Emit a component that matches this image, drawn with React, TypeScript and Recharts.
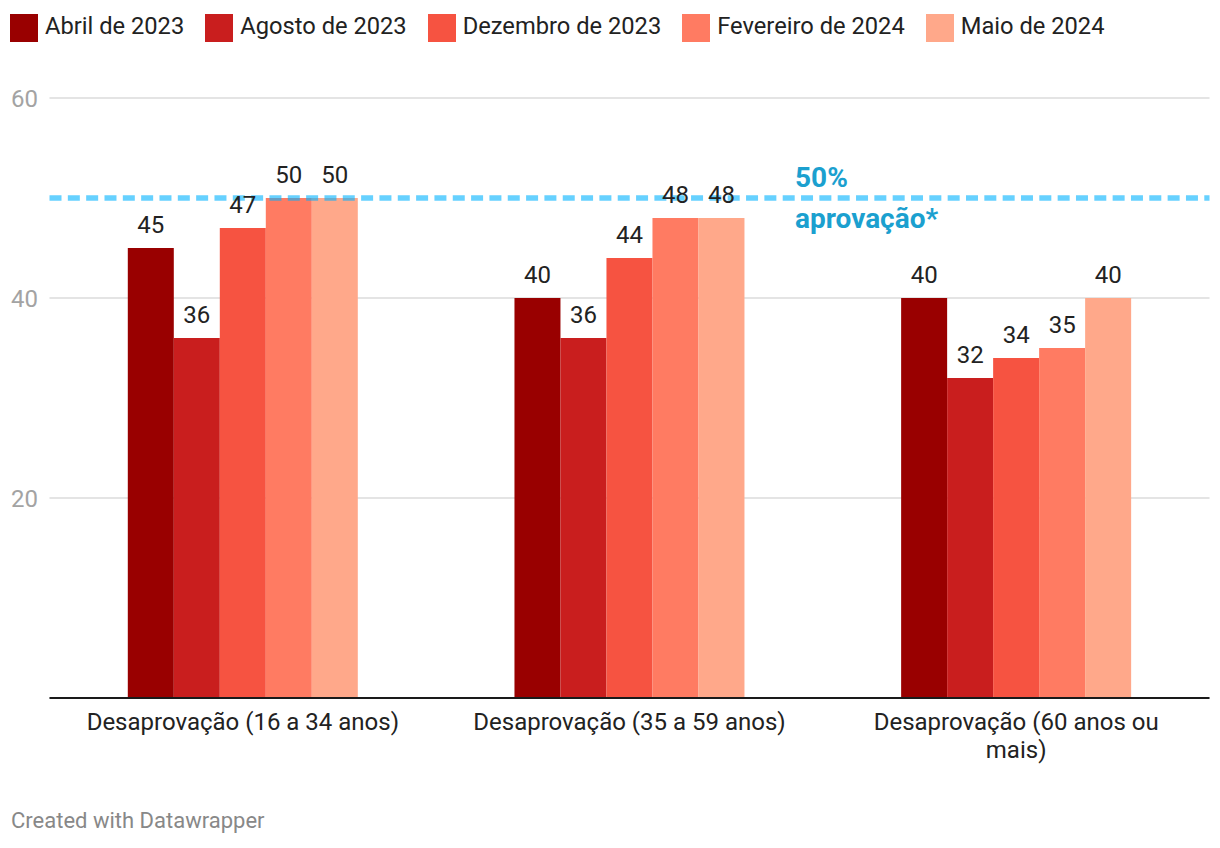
import React from 'react';
import { BarChart, Bar, XAxis, YAxis, CartesianGrid, ReferenceLine, LabelList, Label, Text } from 'recharts';

const categories = [
  'Desaprovação (16 a 34 anos)',
  'Desaprovação (35 a 59 anos)',
  'Desaprovação (60 anos ou mais)',
];
const abril2023 = [45, 40, 40];
const agosto2023 = [36, 36, 32];
const dezembro2023 = [47, 44, 34];
const fevereiro2024 = [50, 48, 35];
const maio2024 = [50, 48, 40];

const seriesNames = ['Abril de 2023', 'Agosto de 2023', 'Dezembro de 2023', 'Fevereiro de 2024', 'Maio de 2024'];
const seriesKeys = ['abril2023', 'agosto2023', 'dezembro2023', 'fevereiro2024', 'maio2024'];
const seriesColors = ['#990000', '#c91e1e', '#f65341', '#ff7b62', '#ffa88a'];
const seriesValues = [abril2023, agosto2023, dezembro2023, fevereiro2024, maio2024];

const yTicks = [20, 40, 60];
const referenceValue = 50;
const referenceLabel = ['50%', 'aprovação*'];
const footerText = 'Created with Datawrapper';

const data = categories.map((category, i) => {
  const row: Record<string, any> = { category };
  seriesKeys.forEach((k, s) => {
    row[k] = seriesValues[s][i];
  });
  return row;
});

const FONT = 'Roboto, "Noto Sans", sans-serif';

let measureCtx: CanvasRenderingContext2D | null = null;
const measure = (s: string, size: number) => {
  if (!measureCtx) {
    const c = document.createElement('canvas');
    measureCtx = c.getContext('2d');
  }
  if (!measureCtx) return s.length * size * 0.5;
  measureCtx.font = `${size}px Roboto`;
  return measureCtx.measureText(s).width;
};

const wrapWords = (text: string, maxWidth: number, size: number) => {
  const words = text.split(' ');
  const lines: string[] = [];
  let cur = '';
  words.forEach((w) => {
    const next = cur ? cur + ' ' + w : w;
    if (cur && measure(next, size) > maxWidth) {
      lines.push(cur);
      cur = w;
    } else {
      cur = next;
    }
  });
  if (cur) lines.push(cur);
  return lines;
};

const CategoryTick = (props: any) => {
  const { x, y, payload } = props;
  const lines = wrapWords(String(payload.value), 335, 24);
  return (
    <text x={x} y={y} textAnchor="middle" fontSize={24} fill="#222" fontFamily={FONT}>
      {lines.map((l, i) => (
        <tspan key={i} x={x} dy={i === 0 ? 17 : 28}>
          {l}
        </tspan>
      ))}
    </text>
  );
};

const ValueTick = (props: any) => {
  const { y, payload } = props;
  return (
    <Text x={11} y={y} textAnchor="start" verticalAnchor="middle" fontSize={24} fill="#a3a3a3" fontFamily={FONT}>
      {String(payload.value)}
    </Text>
  );
};

const RefLabel = (props: any) => {
  const vb = props.viewBox || {};
  const x0 = (vb.x ?? 49.5) + 745.5;
  const y0 = vb.y ?? 198;
  return (
    <g>
      <text x={x0} y={y0 - 11} fontSize={28} fontWeight={700} fill="#1ba0cf" fontFamily={FONT}>
        {referenceLabel[0]}
      </text>
      <text x={x0} y={y0 + 30} fontSize={28} fontWeight={700} fill="#1ba0cf" fontFamily={FONT}>
        {referenceLabel[1]}
      </text>
    </g>
  );
};

export default function App() {
  return (
    <div
      style={{
        position: 'absolute',
        left: 0,
        top: 0,
        width: 1220,
        height: 848,
        background: '#fff',
        fontFamily: FONT,
        overflow: 'hidden',
      }}
    >
      <div style={{ position: 'absolute', left: 10, top: 14, display: 'flex', alignItems: 'flex-start' }}>
        {seriesNames.map((name, i) => (
          <div key={name} style={{ display: 'flex', alignItems: 'flex-start' }}>
            <div style={{ width: 28, height: 28, background: seriesColors[i], marginRight: 7 }} />
            <div
              style={{
                fontSize: 23.7,
                lineHeight: '28px',
                color: '#222',
                marginRight: 21,
                position: 'relative',
                top: -2,
                whiteSpace: 'nowrap',
              }}
            >
              {name}
            </div>
          </div>
        ))}
      </div>

      <div style={{ position: 'absolute', left: 0, top: 0 }}>
        <BarChart
          width={1220}
          height={848}
          data={data}
          margin={{ top: 98, right: 10.5, left: 0, bottom: 0 }}
          barCategoryGap="20.25%"
          barGap={0}
        >
          <CartesianGrid vertical={false} stroke="#e4e4e4" strokeWidth={2} />
          <YAxis
            width={49.5}
            domain={[0, 60]}
            ticks={yTicks}
            interval={0}
            axisLine={false}
            tickLine={false}
            tick={<ValueTick />}
          />
          <XAxis
            dataKey="category"
            height={150}
            interval={0}
            tickLine={false}
            tickSize={0}
            tickMargin={15}
            axisLine={{ stroke: '#1a1a1a', strokeWidth: 2 }}
            tick={<CategoryTick />}
          />
          {seriesKeys.map((k, i) => (
            <Bar key={k} dataKey={k} name={seriesNames[i]} fill={seriesColors[i]} isAnimationActive={false}>
              <LabelList
                dataKey={k}
                position="top"
                offset={15}
                fontSize={24}
                fill="#222"
                fontFamily={FONT}
              />
            </Bar>
          ))}
          <ReferenceLine
            y={referenceValue}
            stroke="#00b2ff"
            strokeOpacity={0.6}
            strokeWidth={5.5}
            strokeDasharray="12 6.33"
            label={<Label content={<RefLabel />} />}
          />
        </BarChart>
      </div>

      <div
        style={{
          position: 'absolute',
          left: 11,
          top: 808,
          fontSize: 22,
          lineHeight: '26px',
          color: '#888',
          whiteSpace: 'nowrap',
        }}
      >
        {footerText}
      </div>
    </div>
  );
}
